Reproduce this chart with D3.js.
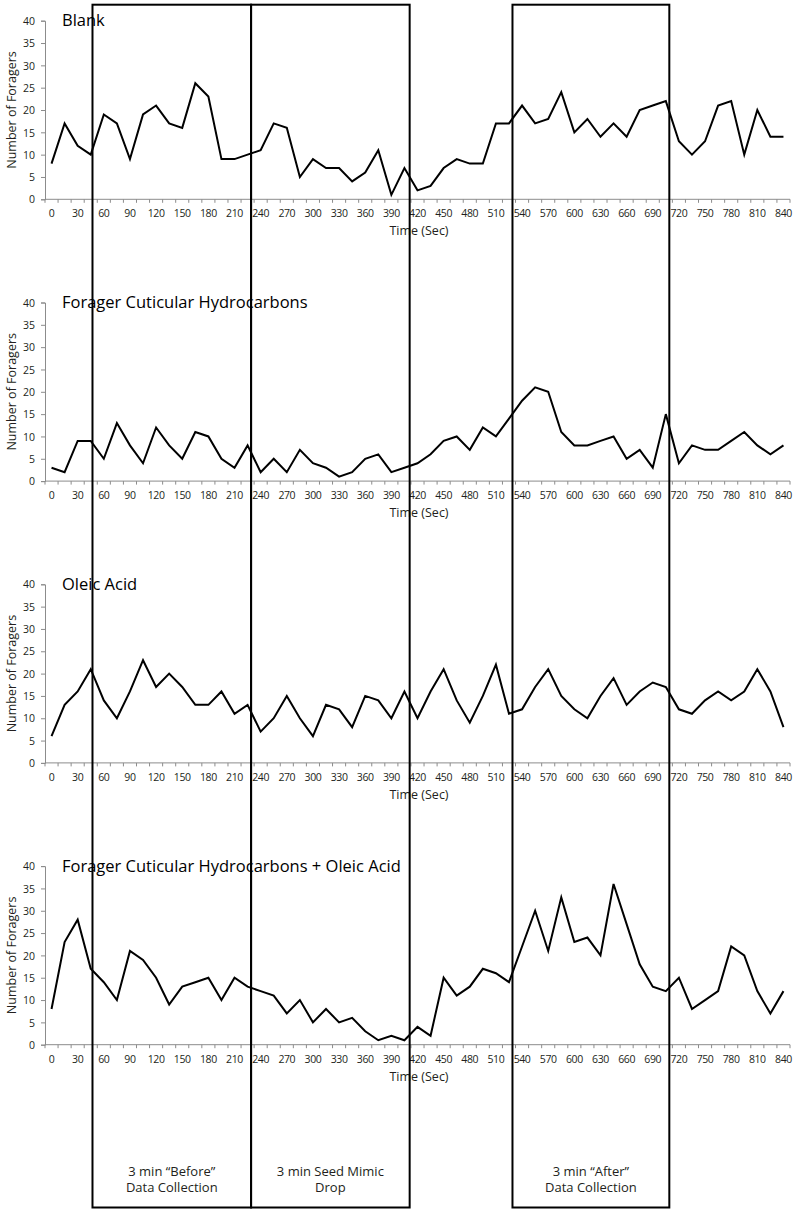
<!DOCTYPE html>
<html>
<head>
<meta charset="utf-8">
<script src="https://cdn.jsdelivr.net/npm/d3@7"></script>
<style>
  html, body { margin: 0; padding: 0; background: #fff; }
  svg { display: block; }
  text { font-family: "Open Sans", "Noto Sans", sans-serif; }
</style>
</head>
<body>
<svg id="chart" width="798" height="1213"></svg>
<script>
// ---------- data ----------
const times = d3.range(0, 841, 15); // 0,15,...,840 seconds
const panelTitles = [
  "Blank",
  "Forager Cuticular Hydrocarbons",
  "Oleic Acid",
  "Forager Cuticular Hydrocarbons + Oleic Acid"
];
const blank = [8,17,12,10,19,17,9,19,21,17,16,26,23,9,9,10,11,17,16,5,9,7,7,4,6,11,1,7,2,3,7,9,8,8,17,17,21,17,18,24,15,18,14,17,14,20,21,22,13,10,13,21,22,10,20,14,14];
const fch = [3,2,9,9,5,13,8,4,12,8,5,11,10,5,3,8,2,5,2,7,4,3,1,2,5,6,2,3,4,6,9,10,7,12,10,14,18,21,20,11,8,8,9,10,5,7,3,15,4,8,7,7,9,11,8,6,8];
const oleic = [6,13,16,21,14,10,16,23,17,20,17,13,13,16,11,13,7,10,15,10,6,13,12,8,15,14,10,16,10,16,21,14,9,15,22,11,12,17,21,15,12,10,15,19,13,16,18,17,12,11,14,16,14,16,21,16,8];
const fchOleic = [8,23,28,17,14,10,21,19,15,9,13,14,15,10,15,13,12,11,7,10,5,8,5,6,3,1,2,1,4,2,15,11,13,17,16,14,22,30,21,33,23,24,20,36,27,18,13,12,15,8,10,12,22,20,12,7,12];
const seriesList = [blank, fch, oleic, fchOleic];
const yTicks = [0,5,10,15,20,25,30,35,40];
const xTickLabels = d3.range(0, 841, 30);
// annotation boxes (time in seconds)
const boxStarts = [47, 229, 529];
const boxEnds   = [229, 411, 709];
const boxLabels = [["3 min \u201cBefore\u201d", "Data Collection"], ["3 min Seed Mimic", "Drop"], ["3 min \u201cAfter\u201d", "Data Collection"]];
const yLabel = "Number of Foragers";
const xLabel = "Time (Sec)";

// ---------- layout ----------
const svg = d3.select("#chart");
const plotLeft = 45, plotRight = 790;
const panelTop0 = 20.7, panelStep = 281.8, panelH = 178.6;
const axisColor = "#8c8c8c";
const textColor = "#231f20";

const x = d3.scalePoint().domain(times).range([plotLeft, plotRight]).padding(0.5);
const step = x.step();
const xLin = d3.scaleLinear().domain([0, 840]).range([x(0), x(840)]);

seriesList.forEach((vals, p) => {
  const top = panelTop0 + p * panelStep;
  const bottom = top + panelH;
  const y = d3.scaleLinear().domain([0, 40]).range([bottom, top]);
  const g = svg.append("g");

  // y axis
  const yAxis = d3.axisLeft(y).tickValues(yTicks).tickSize(4).tickPadding(6);
  const ya = g.append("g").attr("transform", `translate(${plotLeft},0)`).call(yAxis);
  ya.select(".domain").attr("stroke", axisColor);
  ya.selectAll(".tick line").attr("stroke", axisColor);
  ya.selectAll(".tick text").attr("fill", textColor).style("font-size", "10.5px")
    .style("font-family", "'Open Sans', sans-serif").attr("dy", "0.35em");

  // x axis line + tick marks at category boundaries
  g.append("line").attr("x1", plotLeft).attr("x2", plotRight).attr("y1", bottom).attr("y2", bottom)
    .attr("stroke", axisColor).attr("stroke-width", 1);
  const bounds = times.map(t => x(t) - step / 2).concat([x(840) + step / 2]);
  g.selectAll(".xt").data(bounds).enter().append("line")
    .attr("x1", d => d).attr("x2", d => d).attr("y1", bottom).attr("y2", bottom + 3.5)
    .attr("stroke", axisColor);
  g.selectAll(".xl").data(xTickLabels).enter().append("text")
    .attr("x", d => x(d)).attr("y", bottom + 18)
    .attr("text-anchor", "middle").attr("fill", textColor)
    .style("font-size", "10.5px").style("letter-spacing", "-0.4px")
    .text(d => d);

  // axis titles
  g.append("text")
    .attr("transform", `translate(16,${(top + bottom) / 2}) rotate(-90)`)
    .attr("text-anchor", "middle").attr("fill", textColor)
    .style("font-size", "12.5px").text(yLabel);
  g.append("text").attr("x", 419).attr("y", bottom + 36)
    .attr("text-anchor", "middle").attr("fill", textColor)
    .style("font-size", "12.5px").text(xLabel);

  // panel title
  g.append("text").attr("x", 62).attr("y", top + 5.5)
    .attr("fill", "#000").style("font-size", "16.5px").text(panelTitles[p]);

  // line
  const line = d3.line().x((d, i) => x(times[i])).y(d => y(d));
  g.append("path").datum(vals).attr("d", line)
    .attr("fill", "none").attr("stroke", "#000").attr("stroke-width", 2)
    .attr("stroke-linejoin", "miter");
});

// annotation boxes
const boxTop = 4.7, boxBottom = 1207.5;
boxStarts.forEach((s, i) => {
  const x0 = xLin(s), x1 = xLin(boxEnds[i]);
  svg.append("rect").attr("x", x0).attr("y", boxTop).attr("width", x1 - x0).attr("height", boxBottom - boxTop)
    .attr("fill", "none").attr("stroke", "#000").attr("stroke-width", 2);
  const cx = (x0 + x1) / 2;
  boxLabels[i].forEach((t, j) => {
    svg.append("text").attr("x", cx).attr("y", 1176 + j * 16)
      .attr("text-anchor", "middle").attr("fill", textColor)
      .style("font-size", "13px").text(t);
  });
});
</script>
</body>
</html>
